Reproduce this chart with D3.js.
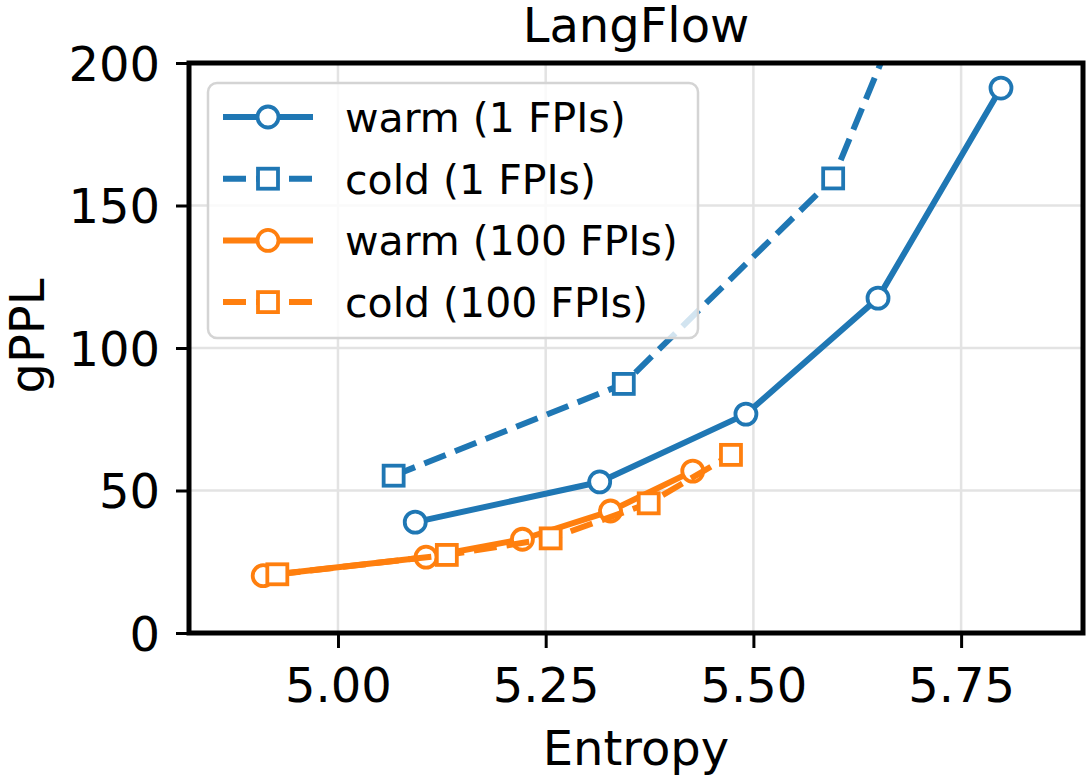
<!DOCTYPE html>
<html>
<head>
<meta charset="utf-8">
<script src="https://cdn.jsdelivr.net/npm/d3@7"></script>
<style>
  html, body { margin: 0; padding: 0; background: #fff; }
  svg { display: block; font-family: "DejaVu Sans", sans-serif; }
</style>
</head>
<body>
<svg id="chart" width="1090" height="778"></svg>
<script>
// data
const warm1X = [5.093, 5.315, 5.491, 5.650, 5.798];
const warm1Y = [38.9, 53.0, 76.8, 117.5, 191.2];
const cold1X = [5.067, 5.344, 5.596, 5.700];
const cold1Y = [55.2, 87.4, 159.5, 233];
const warm100X = [4.910, 5.106, 5.222, 5.328, 5.427];
const warm100Y = [20.1, 26.6, 32.9, 42.8, 56.8];
const cold100X = [4.927, 5.131, 5.256, 5.374, 5.473];
const cold100Y = [20.6, 27.4, 33.2, 45.5, 62.5];

const xTicks = [5.0, 5.25, 5.5, 5.75];
const yTicks = [0, 50, 100, 150, 200];

const series = [
  { label: "warm (1 FPIs)", xs: warm1X, ys: warm1Y, color: "#1f77b4", marker: "circle", dashed: false },
  { label: "cold (1 FPIs)", xs: cold1X, ys: cold1Y, color: "#1f77b4", marker: "square", dashed: true },
  { label: "warm (100 FPIs)", xs: warm100X, ys: warm100Y, color: "#ff7f0e", marker: "circle", dashed: false },
  { label: "cold (100 FPIs)", xs: cold100X, ys: cold100Y, color: "#ff7f0e", marker: "square", dashed: true },
];

const plot = { left: 189, right: 1083, top: 63, bottom: 633 };
const lineWidth = 6;
const dash = "23,10";

const svg = d3.select("#chart");

const x = d3.scaleLinear().domain([4.8207, 5.8967]).range([plot.left, plot.right]);
const y = d3.scaleLinear().domain([0, 200]).range([plot.bottom, plot.top]);

svg.append("defs")
  .append("clipPath")
  .attr("id", "plot-clip")
  .append("rect")
  .attr("x", plot.left)
  .attr("y", plot.top)
  .attr("width", plot.right - plot.left)
  .attr("height", plot.bottom - plot.top);

// grid
const grid = svg.append("g").attr("stroke", "#e3e3e3").attr("stroke-width", 2.5);
grid.selectAll(".gx")
  .data(xTicks)
  .join("line")
  .attr("x1", (d) => x(d)).attr("x2", (d) => x(d))
  .attr("y1", plot.top).attr("y2", plot.bottom);
grid.selectAll(".gy")
  .data(yTicks)
  .join("line")
  .attr("x1", plot.left).attr("x2", plot.right)
  .attr("y1", (d) => y(d)).attr("y2", (d) => y(d));

// draw a marker into a selection
function drawMarker(sel, type, color) {
  if (type === "circle") {
    sel.append("circle")
      .attr("r", 10.5)
      .attr("fill", "#fff")
      .attr("stroke", color)
      .attr("stroke-width", 3.8);
  } else {
    sel.append("rect")
      .attr("x", -10).attr("y", -10)
      .attr("width", 20).attr("height", 20)
      .attr("fill", "#fff")
      .attr("stroke", color)
      .attr("stroke-width", 3.8);
  }
}

// series
const plotArea = svg.append("g").attr("clip-path", "url(#plot-clip)");
const line = d3.line().x((d) => x(d[0])).y((d) => y(d[1]));

series.forEach((s) => {
  const pts = s.xs.map((v, i) => [v, s.ys[i]]);
  plotArea.append("path")
    .datum(pts)
    .attr("d", line)
    .attr("fill", "none")
    .attr("stroke", s.color)
    .attr("stroke-width", lineWidth)
    .attr("stroke-linejoin", "round")
    .attr("stroke-dasharray", s.dashed ? dash : null);

  plotArea.append("g")
    .selectAll("g")
    .data(pts)
    .join("g")
    .attr("transform", (d) => `translate(${x(d[0])},${y(d[1])})`)
    .each(function () {
      drawMarker(d3.select(this), s.marker, s.color);
    });
});

// axes
const xAxis = svg.append("g")
  .attr("transform", `translate(0,${plot.bottom})`)
  .call(d3.axisBottom(x).tickValues(xTicks).tickFormat(d3.format(".2f")).tickSize(15).tickPadding(8));
const yAxis = svg.append("g")
  .attr("transform", `translate(${plot.left},0)`)
  .call(d3.axisLeft(y).tickValues(yTicks).tickSize(13).tickPadding(16));

[xAxis, yAxis].forEach((a) => {
  a.select(".domain").remove();
  a.selectAll(".tick line").attr("stroke", "#000").attr("stroke-width", 3);
  a.selectAll(".tick text")
    .attr("fill", "#000")
    .style("font-size", "48px")
    .style("font-family", "DejaVu Sans");
});
xAxis.selectAll(".tick text").attr("dy", "0.95em");
yAxis.selectAll(".tick text").attr("dy", "0.36em");

// spines
svg.append("rect")
  .attr("x", plot.left).attr("y", plot.top)
  .attr("width", plot.right - plot.left)
  .attr("height", plot.bottom - plot.top)
  .attr("fill", "none")
  .attr("stroke", "#000")
  .attr("stroke-width", 5);

// labels
svg.append("text")
  .attr("x", (plot.left + plot.right) / 2)
  .attr("y", 42)
  .attr("text-anchor", "middle")
  .style("font-size", "48px")
  .text("LangFlow");

svg.append("text")
  .attr("x", (plot.left + plot.right) / 2)
  .attr("y", 765)
  .attr("text-anchor", "middle")
  .style("font-size", "48px")
  .text("Entropy");

svg.append("text")
  .attr("transform", `translate(44,336) rotate(-90)`)
  .attr("text-anchor", "middle")
  .style("font-size", "48px")
  .text("gPPL");

// legend
const legend = svg.append("g");
legend.append("rect")
  .attr("x", 208).attr("y", 83)
  .attr("width", 490).attr("height", 255)
  .attr("rx", 9)
  .attr("fill", "#fff")
  .attr("fill-opacity", 0.8)
  .attr("stroke", "#d4d4d4")
  .attr("stroke-width", 2.5);

const rows = legend.selectAll(".row")
  .data(series)
  .join("g")
  .attr("transform", (d, i) => `translate(223,${117 + i * 61.7})`);

rows.append("line")
  .attr("x1", 0).attr("x2", 90)
  .attr("stroke", (d) => d.color)
  .attr("stroke-width", lineWidth)
  .attr("stroke-dasharray", (d) => (d.dashed ? dash : null));

rows.each(function (d) {
  const m = d3.select(this).append("g").attr("transform", "translate(45,0)");
  drawMarker(m, d.marker, d.color);
});

rows.append("text")
  .attr("x", 122)
  .attr("y", 15)
  .style("font-size", "41px")
  .text((d) => d.label);
</script>
</body>
</html>
